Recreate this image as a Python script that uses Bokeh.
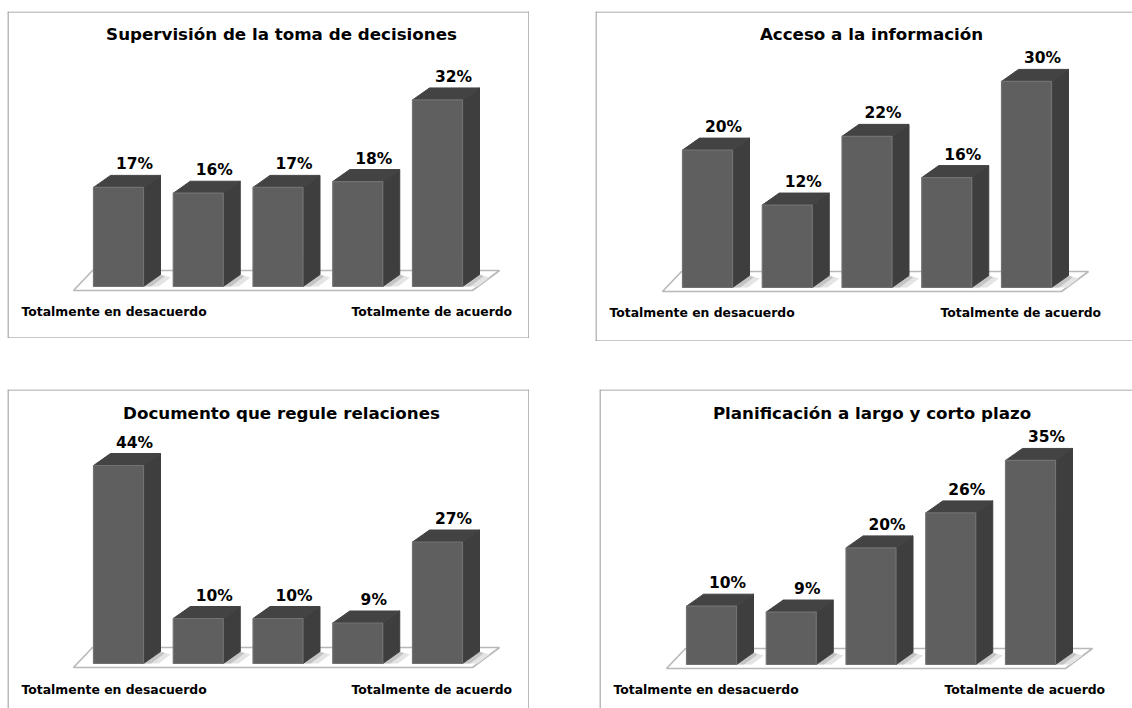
from bokeh.plotting import figure
from bokeh.layouts import column, row
from bokeh.models import Span, Range1d
from bokeh.core.properties import value
from bokeh.embed import file_html
from bokeh.resources import INLINE

# ---- data ----
categories = ["Totalmente en desacuerdo", "", "", "", "Totalmente de acuerdo"]
supervision = [17, 16, 17, 18, 32]
acceso = [20, 12, 22, 16, 30]
documento = [44, 10, 10, 9, 27]
planificacion = [10, 9, 20, 26, 35]
titles = [
    "Supervisión de la toma de decisiones",
    "Acceso a la información",
    "Documento que regule relaciones",
    "Planificación a largo y corto plazo",
]

FONT = "DejaVu Sans"
FRONT, TOP, SIDE = "#5f5f5f", "#434343", "#3e3e3e"
BORDER = "#8f8f8f"
STEP = 79.75      # px per category
BAR_W, DX, DY = 50.0, 17.0, 12.0


def panel(vals, title, left, top, w, h, bar0, base, scale, title_cx, title_cy, lab_y, lab_x,
          margin, edge_right, edge_bottom):
    """left/top: figure position on the page image; everything else in image px."""
    right, bottom = left + w, top + h
    cx0 = bar0 + BAR_W / 2
    fx = lambda px: (px - cx0) / STEP
    fy = lambda py: (base - py) / scale
    p = figure(width=w, height=h, output_backend="svg", toolbar_location=None,
               x_range=Range1d(fx(left), fx(right)), y_range=Range1d(fy(bottom), fy(top)),
               min_border=0, margin=margin)
    p.axis.visible = False
    p.grid.visible = False
    p.outline_line_color = None
    p.background_fill_color = "white"

    # panel border (edges that run off the picture are not drawn)
    p.add_layout(Span(location=fx(left + 0.5), dimension="height", line_color=BORDER, line_width=1.2))
    p.add_layout(Span(location=fy(top + 0.5), dimension="width", line_color=BORDER, line_width=1.2))
    if edge_right:
        p.add_layout(Span(location=fx(right - 0.5), dimension="height", line_color=BORDER, line_width=1.2))
    if edge_bottom:
        p.add_layout(Span(location=fy(bottom - 0.5), dimension="width", line_color=BORDER, line_width=1.2))

    # floor
    fl_x = [bar0 - 20, bar0 + 379, bar0 + 406, bar0 - 1]
    fl_y = [base + 4, base + 4, base - 16, base - 16]
    p.patch([fx(a) for a in fl_x], [fy(b) for b in fl_y],
            fill_color="white", line_color="#b8b8b8", line_width=1.6)

    dxd, dyd = DX / STEP, DY / scale
    hw = BAR_W / STEP / 2
    xs = list(range(len(vals)))

    # soft shadows on the floor
    p.patches([[x + hw, x + hw + dxd, x + hw + 1.6 * dxd, x + hw + 0.9 * dxd] for x in xs],
              [[0, dyd, 0.75 * dyd, 0] for _ in xs],
              fill_color="#e4e4e4", line_color=None)
    p.patches([[x + hw, x + hw + dxd, x + hw + 1.25 * dxd, x + hw + 0.45 * dxd] for x in xs],
              [[0, dyd, 0.85 * dyd, 0] for _ in xs],
              fill_color="#c4c4c4", line_color=None)
    # side faces
    p.patches([[x + hw, x + hw + dxd, x + hw + dxd, x + hw] for x in xs],
              [[0, dyd, v + dyd, v] for v in vals],
              fill_color=SIDE, line_color=SIDE, line_width=1)
    # top faces
    p.patches([[x - hw, x + hw, x + hw + dxd, x - hw + dxd] for x in xs],
              [[v, v, v + dyd, v + dyd] for v in vals],
              fill_color=TOP, line_color=TOP, line_width=1)
    # front faces
    p.vbar(x=xs, top=vals, bottom=0, width=2 * hw,
           fill_color=FRONT, line_color="#727272", line_width=1.2)

    # value labels
    p.text(x=xs, y=vals, text=[f"{v}%" for v in vals], x_offset=16, y_offset=-23,
           text_align="center", text_baseline="middle", text_color="black",
           text_font=value(FONT), text_font_style="bold", text_font_size="15.5px")

    # end-of-scale labels
    p.text(x=[fx(lab_x[0]), fx(lab_x[1])], y=[fy(lab_y)] * 2,
           text=[categories[0], categories[-1]],
           text_align="left", text_baseline="middle", text_color="black",
           text_font=value(FONT), text_font_style="bold", text_font_size="12.4px")

    # title
    p.text(x=[fx(title_cx)], y=[fy(title_cy)], text=[title],
           text_align="center", text_baseline="middle", text_color="black",
           text_font=value(FONT), text_font_style="bold", text_font_size="16.7px")
    return p


f1 = panel(supervision, titles[0], 7, 11, 522, 327, 93, 286, 5.83, 281, 33, 311, (21, 351), (11, 0, 0, 7), True, True)
f2 = panel(acceso, titles[1], 595, 11, 537, 330, 682, 287, 6.87, 871, 33, 312, (609, 940), (11, 0, 0, 66), False, True)
f3 = panel(documento, titles[2], 7, 389, 522, 319, 93, 663, 4.5, 281, 412, 689, (21, 351), (48, 0, 0, 7), True, False)
f4 = panel(planificacion, titles[3], 599, 389, 533, 319, 686, 664, 5.83, 871.5, 412, 689, (613, 944), (48, 0, 0, 70), False, False)

layout = column(row(f1, f2), row(f3, f4))
open("out.html", "w").write(file_html(layout, INLINE))
